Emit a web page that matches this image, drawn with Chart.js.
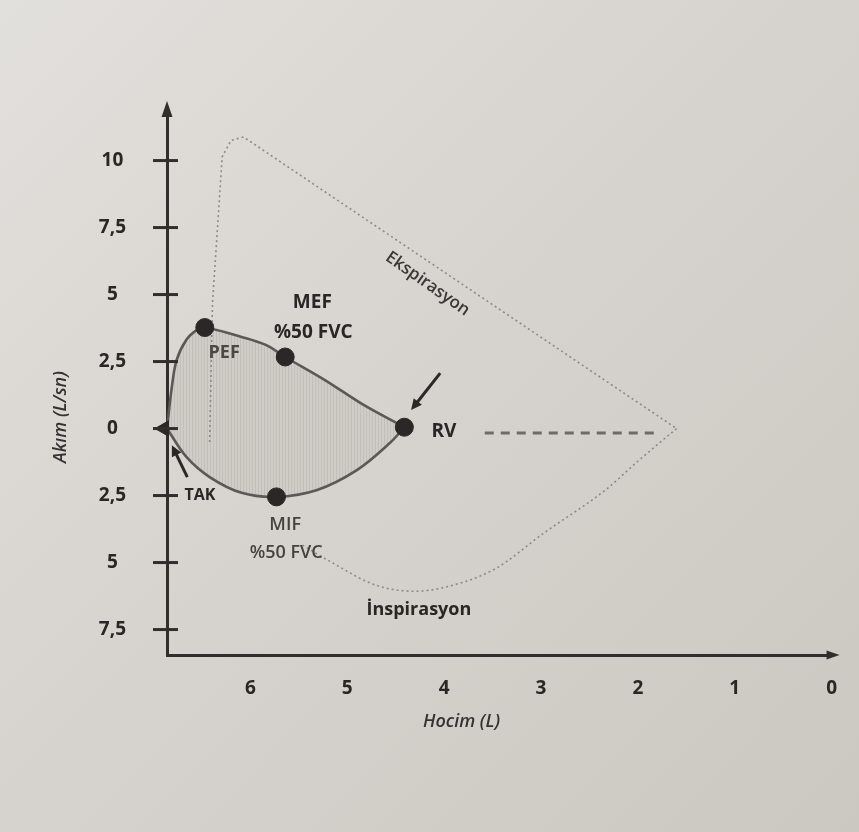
<!DOCTYPE html>
<html>
<head>
<meta charset="utf-8">
<title>Akım-Hacim Eğrisi</title>
<script src="https://cdn.jsdelivr.net/npm/chart.js@4.4.1/dist/chart.umd.min.js"></script>
<style>
  html, body { margin: 0; padding: 0; }
  body {
    width: 859px; height: 832px; overflow: hidden;
    background: linear-gradient(135deg, #e2e0dc 0%, #d7d4cf 45%, #cbc7c1 100%);
  }
  #wrap { position: relative; width: 859px; height: 832px; }
</style>
</head>
<body>
<div id="wrap"><canvas id="loop"></canvas></div>
<script>
// --- data (volume in L, flow in L/sn) ---
var xTicks = [6, 5, 4, 3, 2, 1, 0];
var yTicks = [10, 7.5, 5, 2.5, 0, -2.5, -5, -7.5];
var yTickLabels = ['10', '7,5', '5', '2,5', '0', '2,5', '5', '7,5'];

// small (tidal) loop, expiration part TAK -> PEF -> MEF -> RV
var upperVol = [6.86, 6.81, 6.76, 6.66, 6.55, 6.47, 6.09, 5.84, 5.64, 5.23, 4.83, 4.41];
var upperFlow = [0, 1.55, 2.56, 3.31, 3.68, 3.77, 3.42, 3.12, 2.67, 1.81, 0.88, 0.05];
// inspiration part RV -> MIF -> TAK
var lowerVol = [4.41, 4.56, 4.90, 5.31, 5.73, 6.09, 6.42, 6.66, 6.86];
var lowerFlow = [0.05, -0.54, -1.55, -2.29, -2.55, -2.40, -1.81, -1.06, 0];

// maximal loop (dotted)
var maxExpVol = [6.42, 6.39, 6.29, 6.20, 6.07, 1.60];
var maxExpFlow = [-0.5, 4.69, 10.14, 10.75, 10.88, 0];
var maxInspVol = [1.60, 2.00, 2.33, 2.97, 3.48, 3.99, 4.30, 4.70, 5.20, 5.46];
var maxInspFlow = [0, -1.22, -2.28, -3.90, -5.25, -5.92, -6.07, -5.85, -4.91, -4.35];

// dashed line from RV
var rvLineVol = [3.58, 1.79];
var rvLineFlow = [-0.17, -0.17];

// marked points
var markerNames = ['PEF', 'MEF', 'RV', 'MIF'];
var markerVol = [6.47, 5.64, 4.41, 5.73];
var markerFlow = [3.77, 2.67, 0.05, -2.55];
var takVol = [6.89];
var takFlow = [0];

var pts = function(xs, ys) {
  return xs.map(function(x, i) { return { x: x, y: ys[i] }; });
};

// vertical hatch for the shaded loop
var hatch = function() {
  var c = document.createElement('canvas');
  c.width = 3; c.height = 3;
  var g = c.getContext('2d');
  g.fillStyle = '#d0cdc8';
  g.fillRect(0, 0, 3, 3);
  g.fillStyle = '#c2beb8';
  g.fillRect(0, 0, 1, 3);
  return g.createPattern(c, 'repeat');
};

var FONT = '"Open Sans", sans-serif';
var INK = '#282726';

var drawArrow = function(ctx, x1, y1, x2, y2, head, width) {
  var a = Math.atan2(y2 - y1, x2 - x1);
  ctx.beginPath();
  ctx.moveTo(x1, y1);
  ctx.lineTo(x2 - Math.cos(a) * head * 0.8, y2 - Math.sin(a) * head * 0.8);
  ctx.lineWidth = width;
  ctx.stroke();
  ctx.beginPath();
  ctx.moveTo(x2, y2);
  ctx.lineTo(x2 - head * Math.cos(a - 0.45), y2 - head * Math.sin(a - 0.45));
  ctx.lineTo(x2 - head * Math.cos(a + 0.45), y2 - head * Math.sin(a + 0.45));
  ctx.closePath();
  ctx.fill();
};

// texts and pointers placed in data units
var notes = [
  { text: 'PEF', v: 6.27, f: 2.82, font: '700 18px ' + FONT, color: '#4a4846' },
  { text: 'MEF', v: 5.36, f: 4.69, font: '700 19px ' + FONT },
  { text: '%50 FVC', v: 5.35, f: 3.57, font: '700 19px ' + FONT },
  { text: 'RV', v: 4.13, f: -0.13, font: '700 19px ' + FONT, align: 'left' },
  { text: 'TAK', v: 6.52, f: -2.48, font: '700 16px ' + FONT },
  { text: 'MIF', v: 5.64, f: -3.6, font: '600 18px ' + FONT, color: '#45433f' },
  { text: '%50 FVC', v: 5.63, f: -4.65, font: '600 18px ' + FONT, color: '#45433f' },
  { text: 'İnspirasyon', v: 4.26, f: -6.77, font: '700 18px ' + FONT },
  { text: 'Ekspirasyon', v: 4.17, f: 5.40, font: '600 17px ' + FONT, color: '#3a3836', rot: 35 },
  { text: 'Hocim (L)', v: 3.82, f: -10.96, font: 'italic 600 18px ' + FONT, color: '#333' },
  { text: 'Akım (L/sn)', v: 7.96, f: 0.43, font: 'italic 600 18px ' + FONT, color: '#333', rot: -90 }
];
var pointers = [
  { v1: 4.04, f1: 2.07, v2: 4.34, f2: 0.69 },
  { v1: 6.65, f1: -1.81, v2: 6.81, f2: -0.62 }
];

var decorations = {
  id: 'decorations',
  afterDraw: function(chart) {
    var ctx = chart.ctx;
    var xs = chart.scales.x;
    var ys = chart.scales.y;
    var area = chart.chartArea;
    ctx.save();
    ctx.strokeStyle = '#302f2e';
    ctx.fillStyle = '#302f2e';
    ctx.lineCap = 'butt';

    // cross tick marks on the flow axis
    ctx.lineWidth = 3;
    yTicks.forEach(function(t) {
      var y = ys.getPixelForValue(t);
      ctx.beginPath();
      ctx.moveTo(area.left - 14, y);
      ctx.lineTo(area.left + 11, y);
      ctx.stroke();
    });

    // axis arrow heads
    ctx.beginPath();
    ctx.moveTo(area.left, area.top - 14);
    ctx.lineTo(area.left - 5.5, area.top + 2);
    ctx.lineTo(area.left + 5.5, area.top + 2);
    ctx.closePath();
    ctx.fill();
    ctx.beginPath();
    ctx.moveTo(area.right + 8, area.bottom);
    ctx.lineTo(area.right - 5, area.bottom - 4.5);
    ctx.lineTo(area.right - 5, area.bottom + 4.5);
    ctx.closePath();
    ctx.fill();

    // pointer arrows
    ctx.strokeStyle = '#2a2928';
    ctx.fillStyle = '#2a2928';
    pointers.forEach(function(p) {
      drawArrow(ctx,
        xs.getPixelForValue(p.v1), ys.getPixelForValue(p.f1),
        xs.getPixelForValue(p.v2), ys.getPixelForValue(p.f2), 12, 3);
    });

    // texts
    notes.forEach(function(n) {
      ctx.save();
      ctx.translate(xs.getPixelForValue(n.v), ys.getPixelForValue(n.f));
      if (n.rot) ctx.rotate(n.rot * Math.PI / 180);
      ctx.font = n.font;
      ctx.fillStyle = n.color || INK;
      ctx.textAlign = n.align || 'center';
      ctx.textBaseline = 'middle';
      ctx.fillText(n.text, 0, 0);
      ctx.restore();
    });
    ctx.restore();
  }
};

var shade = hatch();

new Chart(document.getElementById('loop'), {
  type: 'scatter',
  data: {
    datasets: [
      {
        label: 'Noktalar',
        data: pts(markerVol, markerFlow),
        pointRadius: 9,
        pointBackgroundColor: '#2a2827',
        pointBorderColor: '#2a2827',
        showLine: false,
        clip: false,
        order: 0
      },
      {
        label: 'TAK',
        data: pts(takVol, takFlow),
        pointStyle: 'triangle',
        rotation: -90,
        pointRadius: 9,
        pointBackgroundColor: '#2a2827',
        pointBorderColor: '#2a2827',
        showLine: false,
        clip: false,
        order: 0
      },
      {
        label: 'RV çizgisi',
        data: pts(rvLineVol, rvLineFlow),
        showLine: true,
        borderColor: '#6f6c68',
        borderWidth: 3,
        borderDash: [9, 7],
        pointRadius: 0,
        clip: false,
        order: 1
      },
      {
        label: 'Ekspirasyon',
        data: pts(maxExpVol, maxExpFlow),
        showLine: true,
        tension: 0,
        borderColor: '#8d8a86',
        borderWidth: 1.6,
        borderDash: [2, 3],
        pointRadius: 0,
        clip: false,
        order: 2
      },
      {
        label: 'İnspirasyon',
        data: pts(maxInspVol, maxInspFlow),
        showLine: true,
        cubicInterpolationMode: 'monotone',
        borderColor: '#8d8a86',
        borderWidth: 1.6,
        borderDash: [2, 3],
        pointRadius: 0,
        clip: false,
        order: 2
      },
      {
        label: 'Tidal',
        data: pts(upperVol, upperFlow).concat(pts(lowerVol, lowerFlow)),
        showLine: true,
        tension: 0.35,
        borderColor: '#5b5956',
        borderWidth: 2.6,
        backgroundColor: shade,
        fill: 'shape',
        pointRadius: 0,
        clip: false,
        order: 3
      }
    ]
  },
  options: {
    responsive: true,
    maintainAspectRatio: false,
    animation: false,
    layout: { padding: { left: 0, top: 115, right: 16, bottom: 0 } },
    plugins: {
      legend: { display: false },
      tooltip: { enabled: false }
    },
    scales: {
      x: {
        type: 'linear',
        reverse: true,
        min: 0,
        max: 6.86,
        grid: { display: false, drawTicks: false },
        border: { display: true, color: '#302f2e', width: 3 },
        ticks: {
          padding: 22,
          color: INK,
          maxRotation: 0,
          autoSkip: false,
          font: { family: FONT, size: 19, weight: '700' },
          callback: function(v) { return String(v); }
        },
        afterBuildTicks: function(s) {
          s.ticks = xTicks.map(function(v) { return { value: v }; });
        },
        afterFit: function(s) { s.height = 177; }
      },
      y: {
        type: 'linear',
        min: -8.45,
        max: 11.7,
        grid: { display: false, drawTicks: false },
        border: { display: true, color: '#302f2e', width: 3 },
        ticks: {
          padding: 41,
          crossAlign: 'center',
          color: INK,
          autoSkip: false,
          font: { family: FONT, size: 19, weight: '700' },
          callback: function(v, i) { return yTickLabels[i]; }
        },
        afterBuildTicks: function(s) {
          s.ticks = yTicks.map(function(v) { return { value: v }; });
        },
        afterFit: function(s) { s.height = s.height; s.width = 167; }
      }
    }
  },
  plugins: [decorations]
});
</script>
</body>
</html>
